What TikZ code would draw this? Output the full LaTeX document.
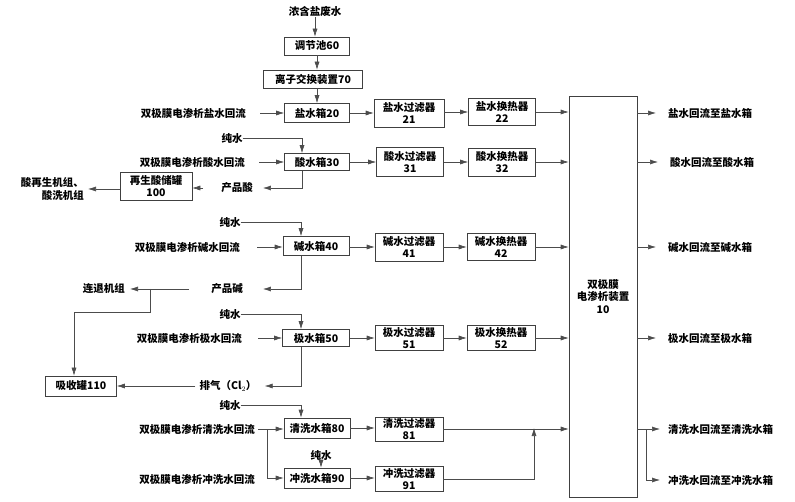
\documentclass[tikz,border=0pt]{standalone}
\usepackage{fontspec}
\setmainfont{Noto Sans CJK SC}
\usetikzlibrary{arrows.meta}
\begin{document}
\begin{tikzpicture}[x=1pt,y=-1pt,
  every node/.style={font=\fontsize{10.5}{12.5}\selectfont\bfseries, inner sep=0pt},
  box/.style={draw=black!75, line width=0.6pt, rectangle, align=center},
  txt/.style={align=center},
  ln/.style={draw=black!70, line width=0.6pt},
  arr/.style={ln, -{Latex[length=8pt,width=5pt]}}]
\useasboundingbox (0,0) rectangle (795,502);
% top chain
\node[txt] (src) at (315,12) {浓含盐废水};
\node[box, minimum width=65pt, minimum height=18pt] (n60) at (317,46) {调节池60};
\node[box, minimum width=99pt, minimum height=18pt] (n70) at (313,79) {离子交换装置70};
\node[box, minimum width=65pt, minimum height=19pt] (n20) at (317,113) {盐水箱20};
\node[box, minimum width=70pt, minimum height=28pt] (n21) at (409,113) {盐水过滤器\\21};
\node[box, minimum width=67pt, minimum height=27pt] (n22) at (502,112) {盐水换热器\\22};
\node[box, minimum width=68pt, minimum height=401pt] (n10) at (603,296.5) {双极膜\\电渗析装置\\10};
\node[txt, anchor=east] (inS) at (246,113) {双极膜电渗析盐水回流};
\node[txt, anchor=west] (outS) at (668,113) {盐水回流至盐水箱};
\draw[arr] (src) -- (src |- n60.north);
\draw[arr] (n60) -- (n60 |- n70.north);
\draw[arr] ([xshift=4pt]n70.south) -- ([xshift=4pt]n70.south |- n20.north);
\draw[arr] ([xshift=14pt]inS.east) -- (n20.west);
\draw[arr] (n20.east) -- (n21.west |- n20.east);
\draw[arr] (n21.east |- n22.west) -- (n22.west);
\draw[arr] (n22.east) -- (n10.west |- n22.east);
\draw[arr] (n10.east |- outS.west) -- ([xshift=-12pt]outS.west);
% acid row
\node[txt] (pw30) at (232,138) {纯水};
\node[box, minimum width=65pt, minimum height=17pt] (n30) at (317,162) {酸水箱30};
\node[txt, anchor=east] (inA) at (245,162) {双极膜电渗析酸水回流};
\node[box, minimum width=67pt, minimum height=29pt] (n31) at (410,162) {酸水过滤器\\31};
\node[box, minimum width=67pt, minimum height=28pt] (n32) at (502,162) {酸水换热器\\32};
\node[txt, anchor=west] (outA) at (670,162) {酸水回流至酸水箱};
\node[txt] (pa) at (237,188) {产品酸};
\node[box, minimum width=72pt, minimum height=28pt] (n100) at (156,186) {再生酸储罐\\100};
\node[txt, align=right, anchor=east] (regen) at (84,189) {酸再生机组、\\酸洗机组};
\draw[arr] (pw30.east) -| ([xshift=-15pt]n30.north);
\draw[arr] ([xshift=14pt]inA.east) -- (n30.west);
\draw[arr] (n30.east) -- (n31.west |- n30.east);
\draw[arr] (n31.east) -- (n32.west |- n31.east);
\draw[arr] (n32.east) -- (n10.west |- n32.east);
\draw[arr] (n10.east |- outA.west) -- ([xshift=-12pt]outA.west);
\draw[arr] ([xshift=-15pt]n30.south) |- ([xshift=10pt]pa.east);
\draw[arr] ([xshift=-18pt]pa.west) -- (n100.east |- pa.west);
\draw[arr] (n100.west |- regen.east) -- ([xshift=4pt]regen.east);
% alkali row
\node[txt] (pw40) at (230,222) {纯水};
\node[box, minimum width=66pt, minimum height=19pt] (n40) at (316,246) {碱水箱40};
\node[txt, anchor=east] (inB) at (240,247) {双极膜电渗析碱水回流};
\node[box, minimum width=68pt, minimum height=28pt] (n41) at (409,247) {碱水过滤器\\41};
\node[box, minimum width=68pt, minimum height=27pt] (n42) at (501,247) {碱水换热器\\42};
\node[txt, anchor=west] (outB) at (668,247) {碱水回流至碱水箱};
\node[txt] (pb) at (227,289) {产品碱};
\node[txt, anchor=east] (lt) at (125,289) {连退机组};
\node[box, minimum width=71pt, minimum height=20pt] (n110) at (81,386) {吸收罐110};
\coordinate (br1) at (150,289);
\draw[arr] (pw40.east) -| ([xshift=-15pt]n40.north);
\draw[arr] ([xshift=17pt]inB.east) -- (n40.west |- inB.east);
\draw[arr] (n40.east |- n41.west) -- (n41.west);
\draw[arr] (n41.east) -- (n42.west |- n41.east);
\draw[arr] (n42.east) -- (n10.west |- n42.east);
\draw[arr] (n10.east |- outB.west) -- ([xshift=-12pt]outB.west);
\draw[arr] ([xshift=-15pt]n40.south) |- ([xshift=20pt]pb.east);
\draw[arr] ([xshift=-22pt]pb.west) -- ([xshift=5pt]lt.east);
\draw[arr] (br1) -- ++(0,23) -| ([xshift=-7pt]n110.north);
% pole row
\node[txt] (pw50) at (230,314) {纯水};
\node[box, minimum width=67pt, minimum height=17pt] (n50) at (316,338) {极水箱50};
\node[txt, anchor=east] (inC) at (242,338) {双极膜电渗析极水回流};
\node[box, minimum width=68pt, minimum height=25pt] (n51) at (409,338) {极水过滤器\\51};
\node[box, minimum width=68pt, minimum height=25pt] (n52) at (501,338) {极水换热器\\52};
\node[txt, anchor=west] (outC) at (668,338) {极水回流至极水箱};
\node[txt] (gas) at (228,386) {排气（Cl$_2$）};
\draw[arr] (pw50.east) -| ([xshift=-15pt]n50.north);
\draw[arr] ([xshift=16pt]inC.east) -- (n50.west);
\draw[arr] (n50.east) -- (n51.west |- n50.east);
\draw[arr] (n51.east) -- (n52.west |- n51.east);
\draw[arr] (n52.east) -- (n10.west |- n52.east);
\draw[arr] (n10.east |- outC.west) -- ([xshift=-12pt]outC.west);
\draw[arr] ([xshift=-15pt]n50.south) |- ([xshift=8pt]gas.east);
\draw[arr] ([xshift=-4pt]gas.west) -- (n110.east |- gas.west);
% cleaning rows
\node[txt] (pw80) at (230,405) {纯水};
\node[box, minimum width=66pt, minimum height=20pt] (n80) at (317,428) {清洗水箱80};
\node[txt, anchor=east] (inD) at (255,429) {双极膜电渗析清洗水回流};
\node[box, minimum width=68pt, minimum height=24pt] (n81) at (409,429) {清洗过滤器\\81};
\node[txt] (pw90) at (321,455) {纯水};
\node[box, minimum width=66pt, minimum height=20pt] (n90) at (317,478) {冲洗水箱90};
\node[txt, anchor=east] (inE) at (255,479) {双极膜电渗析冲洗水回流};
\node[box, minimum width=68pt, minimum height=25pt] (n91) at (409,479) {冲洗过滤器\\91};
\node[txt, anchor=west] (outD) at (668,429) {清洗水回流至清洗水箱};
\node[txt, anchor=west] (outE) at (668,480) {冲洗水回流至冲洗水箱};
\coordinate (br2) at (267,429);
\coordinate (mg) at (534,479);
\coordinate (br3) at (646,429);
\draw[arr] (pw80.east) -| ([xshift=-16pt]n80.north);
\draw[arr] ([xshift=3pt]inD.east) -- (n80.west |- inD.east);
\draw[arr] (br2) |- (n90.west);
\draw[arr] (pw90.south) -- (pw90 |- n90.north);
\draw[arr] (n80.east) -- (n81.west |- n80.east);
\draw[arr] (n90.east) -- (n91.west |- n90.east);
\draw[arr] (n81.east) -- (n10.west |- n81.east);
\draw[arr] (n91.east) -| (mg) -- ([yshift=1pt]mg |- n81.east);
\draw[arr] (n10.east |- outD.west) -- ([xshift=-8pt]outD.west);
\draw[arr] (br3) |- ([xshift=-8pt]outE.west);
\end{tikzpicture}
\end{document}
